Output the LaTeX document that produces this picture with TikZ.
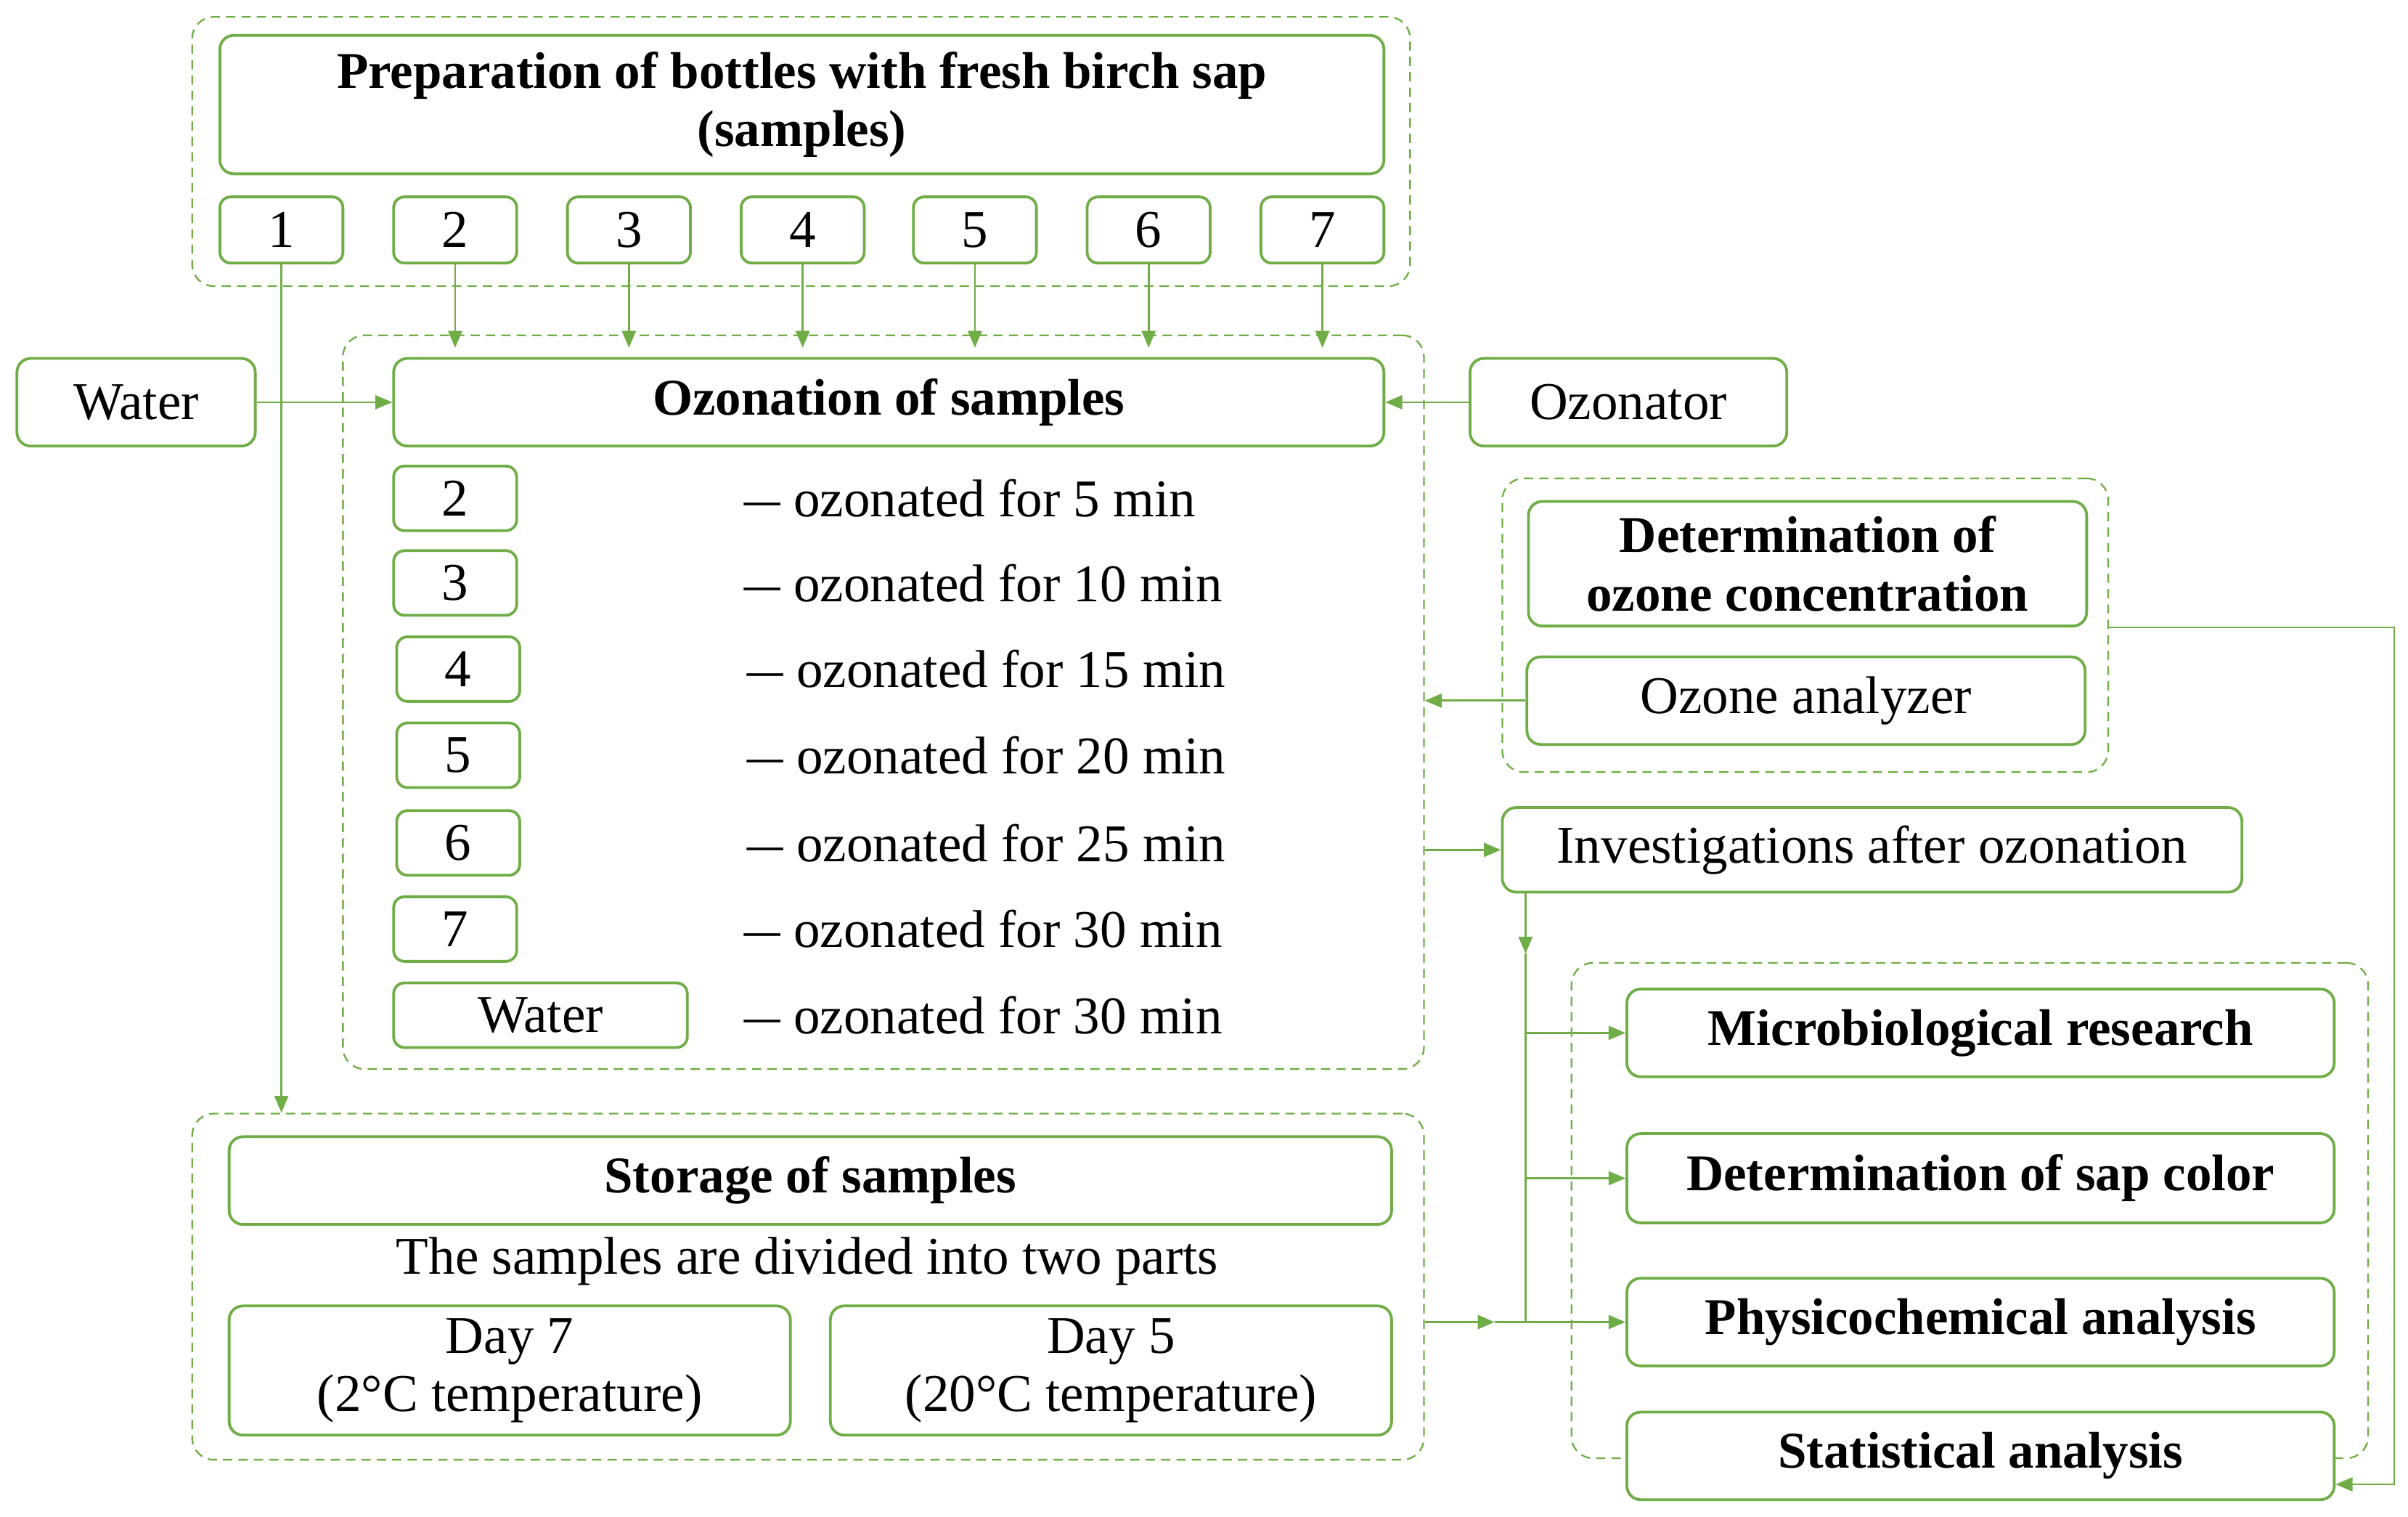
\documentclass[tikz,border=0pt]{standalone}
\usepackage{fontspec}
\setmainfont{Liberation Serif}
\usetikzlibrary{arrows.meta,calc}
\definecolor{gr}{HTML}{70AD47}
\newcommand\myfs{\fontsize{34.5}{38}\selectfont}
\newcommand\mybf{\fontsize{33.5}{38}\selectfont\bfseries}
\newcommand\mydash{\scalebox{1.35}[1]{–}}
\begin{document}
\begin{tikzpicture}[x=1pt,y=-1pt,
 box/.style={draw=gr,line width=1.8pt,rounded corners=9pt,fill=white,inner sep=0pt,align=center,font=\myfs},
 bbox/.style={box,font=\mybf},
 nbox/.style={box,rounded corners=7pt,minimum width=80pt,minimum height=43pt},
 grp/.style={draw=gr,line width=1.1pt,dash pattern=on 6pt off 4pt,rounded corners=14pt,inner sep=0pt},
 arr/.style={draw=gr,line width=1.3pt,-{Triangle[length=11pt,width=9pt]}},
 ln/.style={draw=gr,line width=1.3pt},
 txt/.style={inner sep=0pt,font=\myfs},
 ]
\useasboundingbox (0,0) rectangle (1566,985.8);

% groups
\node[grp,minimum width=792pt,minimum height=175pt] (gTop) at (521,98.5) {};
\node[grp,minimum width=703pt,minimum height=477pt] (gOz) at (574.5,456.5) {};
\node[grp,minimum width=394pt,minimum height=191pt] (gDet) at (1174,406.5) {};
\node[grp,minimum width=518pt,minimum height=322pt] (gRes) at (1281,787) {};
\node[grp,minimum width=801pt,minimum height=225pt] (gSto) at (525.5,836.5) {};

% top
\node[bbox,minimum width=757pt,minimum height=90pt] (prep) at (521.5,68) {Preparation of bottles with fresh birch sap\\(samples)};
\node[nbox] (p1) at (183,149.5) {1};
\node[nbox] (p2) at (296,149.5) {2};
\node[nbox] (p3) at (409,149.5) {3};
\node[nbox] (p4) at (522,149.5) {4};
\node[nbox] (p5) at (634,149.5) {5};
\node[nbox] (p6) at (747,149.5) {6};
\node[nbox] (p7) at (860,149.5) {7};

% ozonation
\node[bbox,minimum width=644pt,minimum height=57pt] (oz) at (578,261.5) {Ozonation of samples};
\node[box,minimum width=155pt,minimum height=57pt] (water) at (88.5,261.5) {Water};
\node[box,minimum width=206pt,minimum height=57pt] (ozr) at (1059,261.5) {Ozonator};

\node[nbox,minimum height=42pt] (l2) at (296,324) {2};
\node[nbox,minimum height=42pt] (l3) at (296,379) {3};
\node[nbox,minimum height=42pt] (l4) at (298,435) {4};
\node[nbox,minimum height=42pt] (l5) at (298,491) {5};
\node[nbox,minimum height=42pt] (l6) at (298,548) {6};
\node[nbox,minimum height=42pt] (l7) at (296,604) {7};
\node[nbox,minimum width=191pt,minimum height=42pt] (lw) at (351.5,660) {Water};

\node[txt,anchor=west] (t2) at (484,324) {\mydash{} ozonated for 5 min};
\node[txt,anchor=west] (t3) at (484,379) {\mydash{} ozonated for 10 min};
\node[txt,anchor=west] (t4) at (486,435) {\mydash{} ozonated for 15 min};
\node[txt,anchor=west] (t5) at (486,491) {\mydash{} ozonated for 20 min};
\node[txt,anchor=west] (t6) at (486,548) {\mydash{} ozonated for 25 min};
\node[txt,anchor=west] (t7) at (484,604) {\mydash{} ozonated for 30 min};
\node[txt,anchor=west] (tw) at (484,660) {\mydash{} ozonated for 30 min};

% determination
\node[bbox,minimum width=363pt,minimum height=81pt] (det) at (1175.5,366.5) {Determination of\\ozone concentration};
\node[box,minimum width=363pt,minimum height=57pt] (ana) at (1174.5,455.5) {Ozone analyzer};
\node[box,minimum width=481pt,minimum height=55pt] (inv) at (1217.5,552.5) {Investigations after ozonation};

% results
\node[bbox,minimum width=460pt,minimum height=57pt] (mic) at (1288,671.5) {Microbiological research};
\node[bbox,minimum width=460pt,minimum height=58pt] (col) at (1288,766) {Determination of sap color};
\node[bbox,minimum width=460pt,minimum height=57pt] (phy) at (1288,859.5) {Physicochemical analysis};
\node[bbox,minimum width=460pt,minimum height=57pt] (sta) at (1288,946.5) {Statistical analysis};

% storage
\node[bbox,minimum width=756pt,minimum height=57pt] (sto) at (527,767.5) {Storage of samples};
\node[txt] (div) at (525,820) {The samples are divided into two parts};
\node[box,minimum width=365pt,minimum height=84pt] (d7) at (331.5,891) {Day 7\\(2°C temperature)};
\node[box,minimum width=365pt,minimum height=84pt] (d5) at (722.5,891) {Day 5\\(20°C temperature)};

% connectors
\draw[arr] (p1.south) -- (p1.south |- gSto.north);
\foreach \i in {2,...,7} {\draw[arr,shorten >=6pt] (p\i.south) -- (p\i.south |- oz.north);}
\draw[arr] (water.east) -- (oz.west);
\draw[arr] (ozr.west) -- (oz.east);
\draw[arr] (ana.west) -- (ana.west -| gOz.east);
\draw[arr] (inv.west -| gOz.east) -- (inv.west);

\coordinate (jt) at ($(inv.south west)+(16,0)$);
\coordinate (jm) at (jt |- 0,620);
\coordinate (jb) at (jt |- phy.west);
\draw[arr] (jt) -- (jm);
\draw[ln] (jm) -- (jb);
\draw[arr] (jt |- mic.west) -- (mic.west);
\draw[arr] (jt |- col.west) -- (col.west);
\draw[arr] (jb) -- (phy.west);
\coordinate (st) at (972,859.5);
\draw[arr,line width=1.8pt] (gSto.east |- phy.west) -- (st);
\draw[ln] (st) -- (jb);

\coordinate (rc) at (1557,965);
\draw[arr] (gDet.east |- det.south) -| (rc) -- (rc -| sta.east);
\end{tikzpicture}
\end{document}
